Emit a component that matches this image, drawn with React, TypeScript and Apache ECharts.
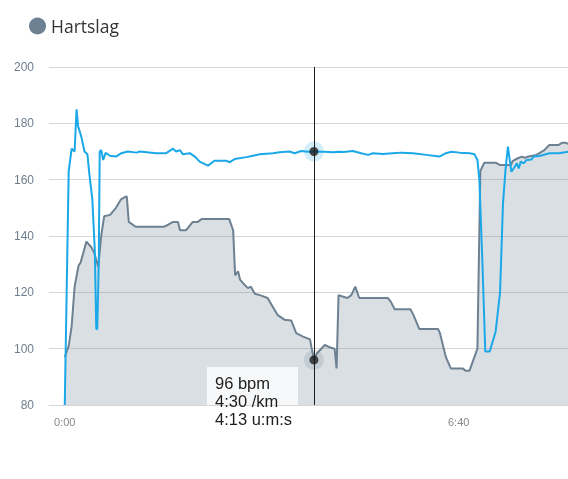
import React, { useEffect, useRef } from "react";
import * as echarts from "echarts";

// Elapsed time in seconds and heart rate in bpm
const hrTime = [
  0, 4, 7, 10, 14, 16, 22, 27, 30, 34, 37, 40, 46, 52, 57, 62, 63, 65, 72, 101,
  105, 110, 115, 117, 123, 130, 135, 139, 167, 171, 173, 176, 178, 183, 186, 189,
  193, 198, 206, 211, 216, 223, 230, 235, 242, 249, 253, 256, 264, 269, 274, 276,
  278, 282, 287, 291, 295, 299, 328, 331, 335, 351, 354, 360, 379, 381, 387, 392,
  404, 407, 411, 419, 422, 424, 426, 438, 442, 453, 455, 460, 464, 467, 471, 479,
  487, 492, 501, 505, 509, 511,
];
const hrBpm = [
  97, 101, 108, 122, 129.5, 130.5, 138, 136, 134, 129, 140, 147, 147.5, 150, 153,
  154, 154, 145, 143.3, 143.3, 144, 145, 145, 142, 142, 145, 145, 146, 146, 142,
  126, 127.5, 124.5, 122.5, 121.5, 122, 119.5, 119, 118, 115, 112, 110.3, 110,
  105.5, 104.3, 103.3, 96, 98.3, 101.3, 100.5, 100, 93, 119, 118.5, 118, 119, 122,
  118, 118, 116.7, 114, 114, 112, 107, 107, 105.5, 97, 93, 93, 92.2, 92.2, 100,
  163, 164.6, 166, 166, 165.2, 165.2, 166.7, 167.6, 168.2, 167.8, 168.2, 168.8,
  170.5, 172.3, 172.3, 173.1, 173.1, 172.7,
];

// Pace trace, plotted on the same vertical scale
const paceTime = [
  0, 4, 7, 10, 12, 13.5, 17, 20, 23, 25, 28, 30.5, 32, 33, 34.5, 35.5, 37, 39,
  41.5, 46, 52, 57.5, 64, 73, 76, 93, 103, 110, 113, 117, 120, 127, 132, 137,
  145.5, 152, 164, 167.5, 172.5, 184.5, 198, 211.5, 218, 228, 233.5, 240, 247,
  253, 263, 273, 278, 283, 292.5, 301, 308, 313, 323, 333, 342, 353.5, 367, 380.5,
  387, 392.5, 401, 411, 416, 419, 421, 424, 427, 431.5, 437.5, 442, 445, 447.5,
  450, 453.5, 457, 459, 461, 463, 466, 469, 474, 476, 482, 492, 502, 511,
];
const paceValue = [
  80, 163, 171, 170, 185, 179, 175, 170, 169, 162, 153, 135, 107, 107, 130, 170,
  170.5, 167, 169.5, 168.5, 168.2, 169.4, 170, 169.6, 170, 169.4, 169.4, 171, 170,
  170.5, 169, 169.4, 168.2, 166.4, 165, 166.7, 166.7, 166.2, 167.3, 168, 169,
  169.4, 169.7, 170, 169.4, 170.2, 169.9, 170, 169.9, 169.7, 169.9, 169.8, 170.2,
  169.4, 168.8, 169.4, 169.1, 169.4, 169.6, 169.4, 168.8, 168.2, 169.4, 169.9,
  169.6, 169.4, 169, 167, 160, 131.5, 99, 99, 106, 120, 151.6, 163.4, 171.7, 162.8,
  164.6, 165.8, 164, 166.4, 165.8, 167, 167.2, 168.2, 168.4, 169.4, 169.4, 169.9,
];

const yTicks = { min: 80, max: 200, step: 20 };
const xLabelValues = [0, 400];

// Hovered sample shown in the tooltip
const cursorTime = 253;
const cursorPace = "4:30";

const HR_COLOR = "#6d8192";
const PACE_COLOR = "#1ba8e8";

const fmtTime = (s: number) => {
  const m = Math.floor(s / 60);
  const sec = Math.round(s - m * 60);
  return `${m}:${sec < 10 ? "0" : ""}${sec}`;
};

export default function App() {
  const ref = useRef<HTMLDivElement>(null);

  useEffect(() => {
    if (!ref.current) return;
    const chart = echarts.init(ref.current, undefined, { renderer: "svg" });

    const hrData = hrTime.map((t, i) => [t, hrBpm[i]]);
    const paceData = paceTime.map((t, i) => [t, paceValue[i]]);
    const hrAt = hrBpm[hrTime.indexOf(cursorTime)];
    const paceAt = paceValue[paceTime.indexOf(cursorTime)];

    chart.setOption({
      animation: false,
      grid: { left: 49, right: 0, top: 67, bottom: 74, containLabel: false },
      legend: {
        left: 24,
        top: 12,
        icon: "circle",
        itemWidth: 17,
        itemHeight: 17,
        itemGap: 10,
        data: ["Hartslag"],
        textStyle: {
          fontFamily: "Open Sans",
          fontSize: 17.5,
          color: "#333",
        },
      },
      xAxis: {
        type: "value",
        min: -16,
        max: 511,
        splitLine: { show: false },
        axisTick: { show: false },
        axisLine: { show: true, lineStyle: { color: "#d6d6d6" } },
        axisLabel: {
          customValues: xLabelValues,
          formatter: (v: number) => fmtTime(v),
          color: "#888",
          fontFamily: "Liberation Sans",
          fontSize: 11,
          margin: 11,
        },
      },
      yAxis: {
        type: "value",
        min: yTicks.min,
        max: yTicks.max,
        interval: yTicks.step,
        axisLine: { show: false },
        axisTick: { show: false },
        splitLine: { lineStyle: { color: "#d6d6d6", width: 1 } },
        axisLabel: {
          color: "#6f7e8d",
          fontFamily: "Liberation Sans",
          fontSize: 12,
          margin: 15,
        },
      },
      series: [
        {
          name: "Hartslag",
          type: "line",
          data: hrData,
          showSymbol: false,
          lineStyle: { color: HR_COLOR, width: 2 },
          itemStyle: { color: HR_COLOR },
          areaStyle: { color: HR_COLOR, opacity: 0.25, origin: "start" },
          markLine: {
            silent: true,
            symbol: "none",
            label: { show: false },
            lineStyle: { color: "#1e1e1e", width: 1, type: "solid" },
            data: [{ xAxis: cursorTime }],
          },
          z: 2,
        },
        {
          name: "Tempo",
          type: "line",
          data: paceData,
          showSymbol: false,
          lineStyle: { color: PACE_COLOR, width: 2 },
          itemStyle: { color: PACE_COLOR },
          z: 3,
        },
        {
          name: "halo",
          type: "scatter",
          symbolSize: 20,
          silent: true,
          data: [
            { value: [cursorTime, hrAt], itemStyle: { color: "rgba(109,129,146,0.25)" } },
            { value: [cursorTime, paceAt], itemStyle: { color: "rgba(27,168,232,0.25)" } },
          ],
          z: 4,
        },
        {
          name: "punt",
          type: "scatter",
          symbolSize: 9,
          silent: true,
          itemStyle: { color: "#1e1e1e" },
          data: [
            [cursorTime, hrAt],
            [cursorTime, paceAt],
          ],
          z: 5,
        },
      ],
      graphic: [
        {
          type: "rect",
          shape: { x: 207, y: 367, width: 91, height: 38 },
          style: { fill: "rgba(255,255,255,0.8)" },
          z: 100,
        },
        {
          type: "text",
          x: 215,
          y: 374,
          style: {
            text: [`${hrAt} bpm`, `${cursorPace} /km`, `${fmtTime(cursorTime)} u:m:s`].join("\n"),
            font: "16.5px 'Liberation Sans', Arial, sans-serif",
            fill: "#1e1e1e",
            lineHeight: 18,
          },
          z: 101,
        },
      ],
    });

    return () => chart.dispose();
  }, []);

  return (
    <div
      ref={ref}
      style={{ position: "fixed", left: 0, top: 0, width: 568, height: 479 }}
    />
  );
}
